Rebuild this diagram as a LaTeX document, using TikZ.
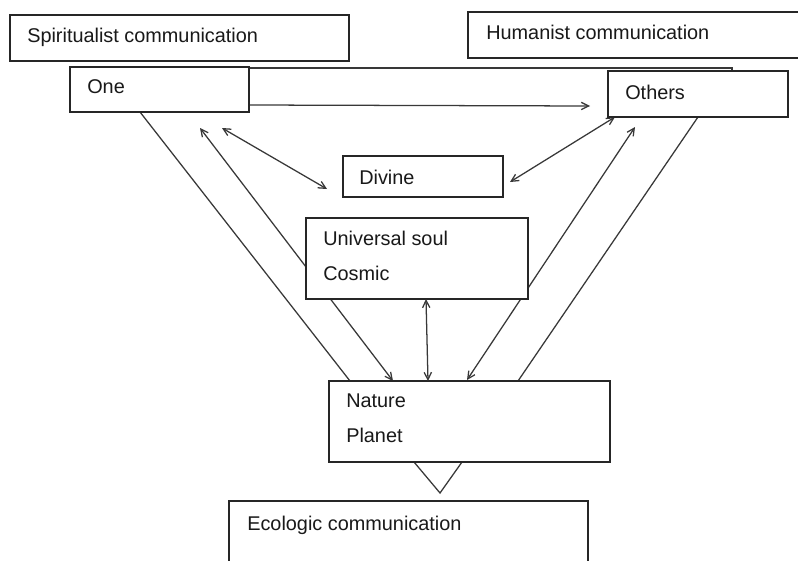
\documentclass[tikz,border=0pt]{standalone}
\usepackage{fontspec}
\setmainfont{Liberation Sans}
\usetikzlibrary{arrows.meta,fit}
\begin{document}
\begin{tikzpicture}[x=0.75pt,y=-0.75pt,
  line/.style={draw=black!78,line width=0.95pt},
  arr/.style={line,-{Straight Barb[length=5.5pt,width=5.5pt]}},
  darr/.style={line,{Straight Barb[length=5.5pt,width=5.5pt]}-{Straight Barb[length=5.5pt,width=5.5pt]}},
  box/.style={draw=black!85,line width=0.9pt,fill=white,inner sep=0pt},
  txt/.style={anchor=base west,inner sep=0pt,text=black!90,font=\fontsize{14.9}{17}\selectfont}]
\useasboundingbox (0,0) rectangle (798,560);
% connector end points
\coordinate (vl1) at (140,112);
\coordinate (vl2) at (350,381);
\coordinate (vr1) at (698,117);
\coordinate (vr2) at (518,381);
\coordinate (vb1) at (414,462);
\coordinate (vb2) at (440,493);
\coordinate (vb3) at (462,462);
\coordinate (tl1) at (249,68);
\coordinate (tl2) at (732,68);
\coordinate (tl3) at (732,71);
\coordinate (oo1) at (249,105);
\coordinate (oo2) at (590,106);
\coordinate (on1) at (200,128);
\coordinate (on2) at (393,381);
\coordinate (od1) at (222,128);
\coordinate (od2) at (327,189);
\coordinate (td1) at (615,117);
\coordinate (td2) at (510,182);
\coordinate (tn1) at (635,127);
\coordinate (tn2) at (467,380);
\coordinate (sn1) at (426,299);
\coordinate (sn2) at (428,381);
% lines and arrows
\draw[line] (vl1) -- (vl2);
\draw[line] (vr1) -- (vr2);
\draw[line] (vb1) -- (vb2) -- (vb3);
\draw[line] (tl1) -- (tl2) -- (tl3);
\draw[arr] (oo1) -- (oo2);
\draw[darr] (on1) -- (on2);
\draw[darr] (od1) -- (od2);
\draw[darr] (td1) -- (td2);
\draw[darr] (tn1) -- (tn2);
% boxes
\node[box,fit={(10,15) (349,61)}] (spirit) {};
\node[box,fit={(468,12) (806,58)}] (human) {};
\node[box,fit={(70,67) (249,112)}] (one) {};
\node[box,fit={(608,71) (788,117)}] (others) {};
\node[box,fit={(343,156) (503,197)}] (divine) {};
\node[box,fit={(306,218) (528,299)}] (soul) {};
\node[box,fit={(329,381) (610,462)}] (nature) {};
\node[box,fit={(229,501) (588,566)}] (eco) {};
\draw[darr] (sn1) -- (sn2);
% texts
\node[txt] (tspirit) at (27,43) {Spiritualist communication};
\node[txt] (thuman) at (486,40) {Humanist communication};
\node[txt] (tone) at (87,93) {One};
\node[txt] (tothers) at (625,99) {Others};
\node[txt] (tdivine) at (359,184) {Divine};
\node[txt] (tsoul) at (323,245) {Universal soul};
\node[txt] (tcosmic) at (323,280) {Cosmic};
\node[txt] (tnature) at (346,407) {Nature};
\node[txt] (tplanet) at (346,442) {Planet};
\node[txt] (teco) at (247,530) {Ecologic communication};
\end{tikzpicture}
\end{document}
